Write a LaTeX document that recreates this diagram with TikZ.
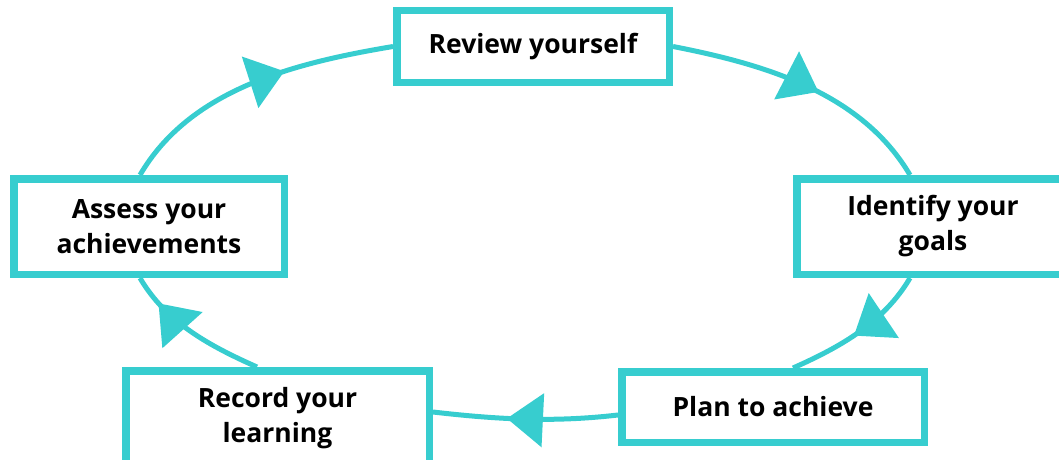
\documentclass[tikz,border=0pt]{standalone}
\usepackage{fontspec}
\setmainfont{Open Sans}
\usetikzlibrary{arrows.meta, decorations.markings}
\definecolor{cyclecol}{RGB}{55,205,207}
\tikzstyle{stage} = [rectangle, draw=cyclecol, line width=7.5pt, fill=white, inner sep=0pt, align=center, text centered, font=\bfseries\fontsize{26.5}{35}\selectfont]
\tikzstyle{cycle} = [draw=cyclecol, line width=5pt, looseness=0.9]
\tikzstyle{tip at} = [decoration={markings, mark=at position #1 with {\arrow{Triangle[length=36pt, width=53pt]}}}, postaction={decorate}]

\begin{document}
\begin{tikzpicture}[x=1pt, y=1pt]
\useasboundingbox (0,0) rectangle (1059,459);
\clip (0,0) rectangle (1059,459);
\node (review) [stage, minimum width=272.5pt, minimum height=71.5pt] at (533,412.5) {Review yourself};
\node (identify) [stage, minimum width=272.5pt, minimum height=95.5pt] at (933,232.5) {Identify your\\goals};
\node (plan) [stage, minimum width=302.5pt, minimum height=70.5pt] at (773,52) {Plan to achieve};
\node (record) [stage, minimum width=303.5pt, minimum height=95.5pt] at (277.5,40.5) {Record your\\learning};
\node (assess) [stage, minimum width=270.5pt, minimum height=95.5pt] at (149,232.5) {Assess your\\achievements};
\draw [cycle, tip at=0.55] (review.east) to[out=-11, in=120.6] ([xshift=-23pt]identify.north);
\draw [cycle, tip at=0.54] ([xshift=-23pt]identify.south) to[out=-120.6, in=24] ([xshift=20pt]plan.north);
\draw [cycle, tip at=0.6] ([yshift=-8pt]plan.west) to[out=186.6, in=-6.6] ([yshift=6.5pt]record.east);
\draw [cycle, tip at=0.79] ([xshift=-20.5pt]record.north) to[out=156, in=-59.7] ([xshift=-9pt]assess.south);
\draw [cycle, tip at=0.62] ([xshift=-9pt]assess.north) to[out=59.7, in=189.5] (review.west);
\end{tikzpicture}
\end{document}
